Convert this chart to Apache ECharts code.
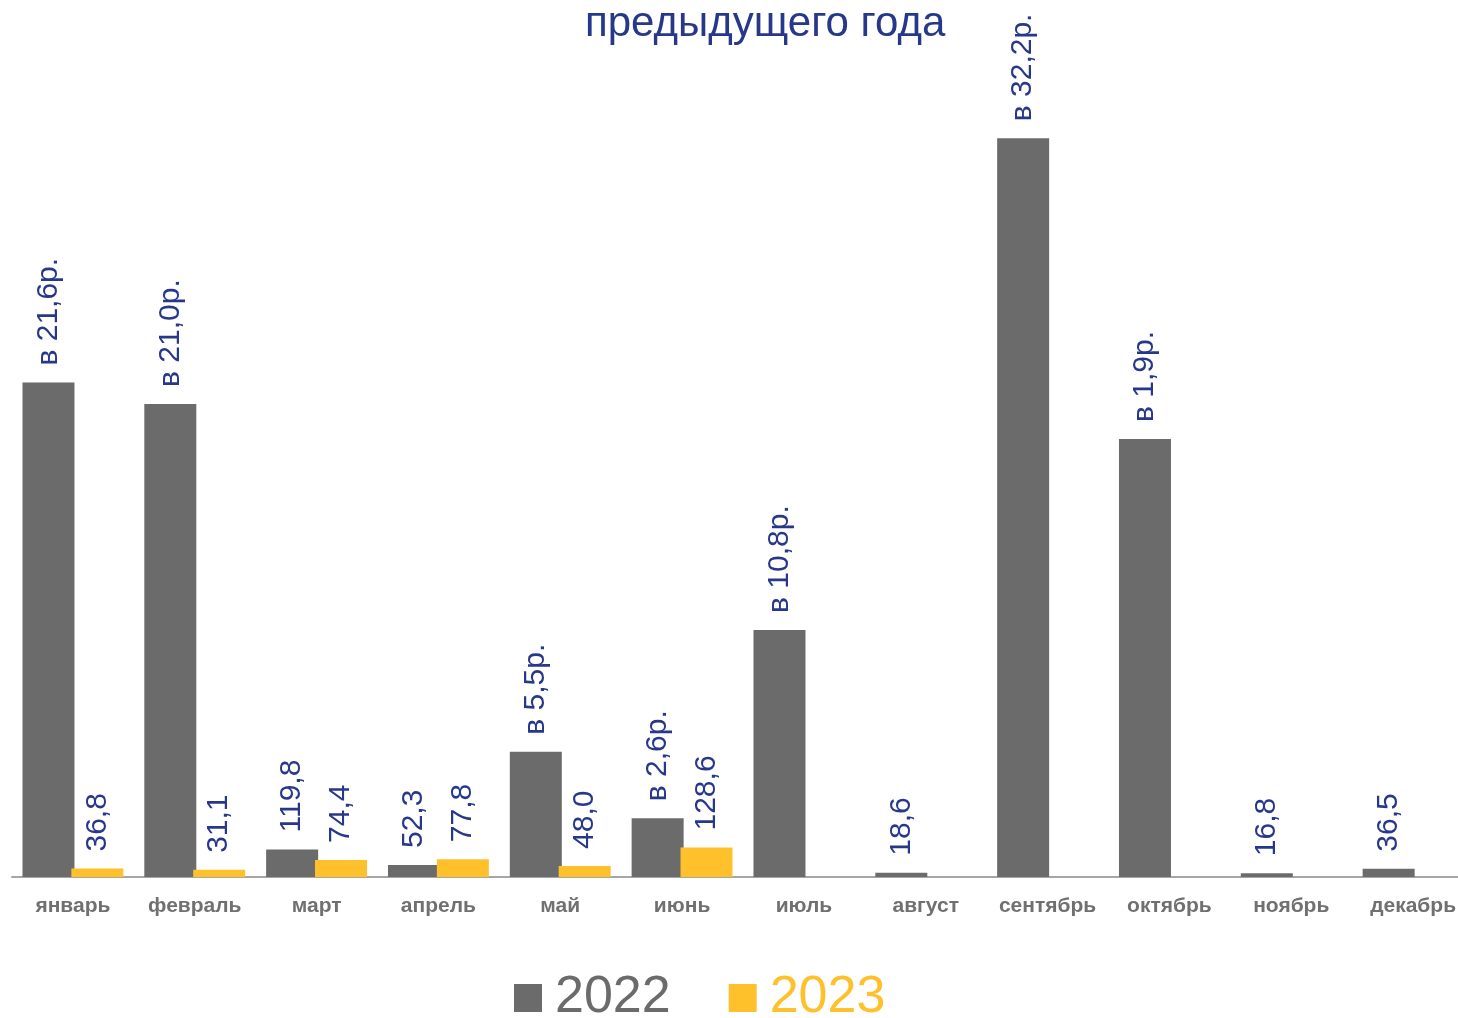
<!DOCTYPE html>
<html>
<head>
<meta charset="utf-8">
<script src="https://cdn.jsdelivr.net/npm/echarts@6/dist/echarts.min.js"></script>
<style>
html,body{margin:0;padding:0;background:#fff;}
#chart{width:1458px;height:1018px;}
</style>
</head>
<body>
<div id="chart"></div>
<script>
const titleText = 'предыдущего года';
const categories = ['январь','февраль','март','апрель','май','июнь','июль','август','сентябрь','октябрь','ноябрь','декабрь'];
const values2022 = [2155, 2062, 119.8, 52.3, 546, 256, 1077, 18.6, 3220, 1909, 16.8, 36.5];
const labels2022 = ['в 21,6р.','в 21,0р.','119,8','52,3','в 5,5р.','в 2,6р.','в 10,8р.','18,6','в 32,2р.','в 1,9р.','16,8','36,5'];
const values2023 = [36.8, 31.1, 74.4, 77.8, 48.0, 128.6, null, null, null, null, null, null];
const labels2023 = ['36,8','31,1','74,4','77,8','48,0','128,6','','','','','',''];
const seriesNames = ['2022','2023'];

const GRAY = '#6b6b6b';
const YELLOW = '#ffc12b';
const BLUE = '#27378a';
const FONT = '"Liberation Sans", Arial, sans-serif';

const chart = echarts.init(document.getElementById('chart'), null, {renderer:'canvas'});

const labelBase = {
  show: true,
  position: 'top',
  rotate: 90,
  align: 'left',
  verticalAlign: 'middle',
  distance: 17,
  color: BLUE,
  fontSize: 30,
  fontFamily: FONT
};

chart.setOption({
  animation: false,
  backgroundColor: '#fff',
  title: {
    text: titleText,
    left: 580,
    top: -2,
    textStyle: {color: BLUE, fontSize: 42, fontWeight: 'normal', fontFamily: FONT}
  },
  legend: {
    left: 514,
    top: 972,
    padding: 0,
    itemWidth: 28,
    itemHeight: 28,
    itemGap: 58,
    icon: 'rect',
    data: [
      {name: seriesNames[0], textStyle: {color: GRAY}},
      {name: seriesNames[1], textStyle: {color: YELLOW}}
    ],
    textStyle: {fontSize: 52, fontFamily: FONT, padding: [0,0,0,8]}
  },
  grid: {left: 12, width: 1462, top: 74, bottom: 141, outerBoundsMode: 'none', containLabel: false},
  xAxis: {
    type: 'category',
    data: categories,
    axisLine: {lineStyle: {color: '#a6a6a6', width: 2}},
    axisTick: {show: false},
    axisLabel: {interval: 0, color: '#707070', fontSize: 21, fontWeight: 'bold', fontFamily: FONT, margin: 19}
  },
  yAxis: {
    type: 'value',
    min: 0,
    max: 3500,
    show: false,
    splitLine: {show: false}
  },
  series: [
    {
      name: seriesNames[0],
      type: 'bar',
      data: values2022,
      barWidth: 52,
      barGap: '-6%',
      itemStyle: {color: GRAY},
      label: Object.assign({}, labelBase, {formatter: p => labels2022[p.dataIndex]})
    },
    {
      name: seriesNames[1],
      type: 'bar',
      data: values2023,
      barWidth: 52,
      itemStyle: {color: YELLOW},
      label: Object.assign({}, labelBase, {formatter: p => labels2023[p.dataIndex]})
    }
  ]
});
</script>
</body>
</html>
